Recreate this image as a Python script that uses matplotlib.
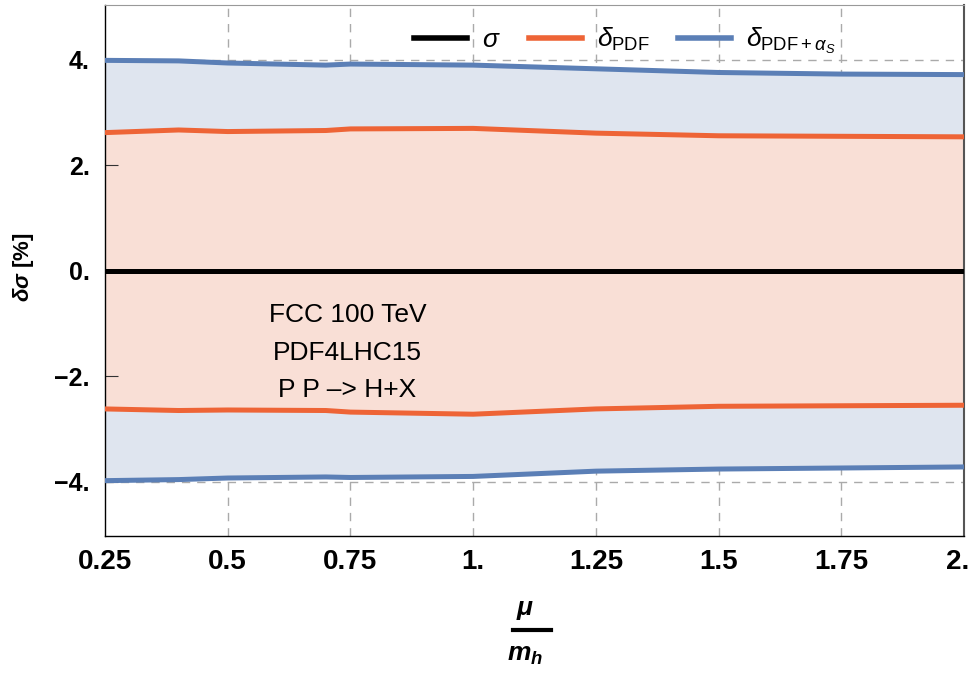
import numpy as np
import matplotlib.pyplot as plt
import matplotlib.transforms as mtransforms
from matplotlib.lines import Line2D

plt.rcParams['font.family'] = ['Liberation Sans', 'DejaVu Sans']
plt.rcParams['mathtext.fontset'] = 'custom'
plt.rcParams['mathtext.rm'] = 'Liberation Sans'
plt.rcParams['mathtext.it'] = 'Liberation Sans:italic'
plt.rcParams['mathtext.bf'] = 'Liberation Sans:bold'
plt.rcParams['mathtext.bfit'] = 'Liberation Sans:bold:italic'

# scale mu/m_h
mu = [0.25, 0.4, 0.5, 0.7, 0.75, 1.0, 1.25, 1.5, 1.75, 2.0]
# uncertainties in percent
pdf_up = [2.62, 2.67, 2.64, 2.66, 2.69, 2.70, 2.61, 2.56, 2.55, 2.54]
pdf_dn = [-2.62, -2.65, -2.64, -2.65, -2.68, -2.72, -2.62, -2.57, -2.56, -2.55]
pdfas_up = [3.99, 3.98, 3.94, 3.90, 3.92, 3.90, 3.83, 3.76, 3.73, 3.72]
pdfas_dn = [-3.98, -3.96, -3.93, -3.91, -3.92, -3.90, -3.80, -3.76, -3.74, -3.72]
sigma = [0.0] * len(mu)

xticks = [0.25, 0.5, 0.75, 1.0, 1.25, 1.5, 1.75, 2.0]
xticklabels = ['0.25', '0.5', '0.75', '1.', '1.25', '1.5', '1.75', '2.']
yticks = [-4, -2, 0, 2, 4]
yticklabels = ['\u22124.', '\u22122.', '0.', '2.', '4.']

blue = '#5b7fb6'
orange = '#ee6436'

fig = plt.figure(figsize=(9.73, 6.75), dpi=100)
ax = fig.add_axes([0.1079, 0.2059, 0.8829, 0.7867])

ax.fill_between(mu, pdfas_dn, pdfas_up, color='#dfe5ef', lw=0, zorder=1)
ax.fill_between(mu, pdf_dn, pdf_up, color='#f9dfd6', lw=0, zorder=1.1)
ax.plot(mu, pdfas_up, color=blue, lw=3.6, zorder=3, solid_capstyle='butt')
ax.plot(mu, pdfas_dn, color=blue, lw=3.6, zorder=3, solid_capstyle='butt')
ax.plot(mu, pdf_up, color=orange, lw=3.6, zorder=3, solid_capstyle='butt')
ax.plot(mu, pdf_dn, color=orange, lw=3.6, zorder=3, solid_capstyle='butt')
ax.plot(mu, sigma, color='black', lw=3.6, zorder=4, solid_capstyle='butt')

ax.set_xlim(0.25, 2.0)
ax.set_ylim(-5.03, 5.04)

# grid: vertical at x ticks, horizontal only at +-4
for xv in xticks[1:-1]:
    ax.axvline(xv, color='#aaaaaa', lw=1.0, ls=(0, (6, 5)), zorder=0.5)
for yv in [-4, 4]:
    ax.axhline(yv, color='#aaaaaa', lw=1.0, ls=(0, (6, 5)), zorder=0.5)

ax.set_xticks(xticks)
ax.set_xticklabels(xticklabels, fontsize=20, fontweight='bold')
ax.set_yticks(yticks)
ax.set_yticklabels(yticklabels, fontsize=18, fontweight='bold')
ax.tick_params(axis='x', length=0, pad=9)
ax.tick_params(axis='y', direction='in', length=9, width=0.8, color='#333333', pad=11)

# keep the last tick label inside the canvas
last = ax.get_xticklabels()[-1]
last.set_transform(last.get_transform() + mtransforms.ScaledTranslation(-6 / 100, 0, fig.dpi_scale_trans))

ax.spines['left'].set_color('black')
ax.spines['bottom'].set_color('black')
ax.spines['left'].set_linewidth(1.0)
ax.spines['bottom'].set_linewidth(1.0)
ax.spines['top'].set_color('#999999')
ax.spines['right'].set_color('#555555')
ax.spines['right'].set_linewidth(1.5)

fig.text(0.024, 0.605, r'$\mathbfit{\delta\sigma}$ [%]', rotation=90, ha='center',
         va='center', fontsize=16, fontweight='bold')

# x label as a fraction mu / m_h
fig.text(0.5395, 0.096, r'$\mathbfit{\mu}$', ha='center', va='center', fontsize=19)
fig.add_artist(Line2D([0.527, 0.566], [0.0667, 0.0667], color='black', lw=3.0,
                      transform=fig.transFigure))
fig.text(0.5395, 0.030, r'$\mathbfit{m_h}$', ha='center', va='center', fontsize=19)

ax.text(0.744, -0.84, 'FCC 100 TeV', ha='center', va='center', fontsize=19)
ax.text(0.744, -1.56, 'PDF4LHC15', ha='center', va='center', fontsize=19)
ax.text(0.744, -2.27, 'P P \u2013> H+X', ha='center', va='center', fontsize=19)

handles = [Line2D([], [], color='black', lw=4.0),
           Line2D([], [], color=orange, lw=4.0),
           Line2D([], [], color=blue, lw=4.0)]
labels = [r'$\sigma$', r'$\delta_{\mathrm{PDF}}$', r'$\delta_{\mathrm{PDF+}\alpha_S}$']
ax.legend(handles, labels, loc='center', bbox_to_anchor=(0.605, 0.932), ncol=3,
          frameon=False, fontsize=19, handlelength=2.0, columnspacing=1.1,
          handletextpad=0.55, borderpad=0.2)

fig.savefig('out.png', dpi=100)
